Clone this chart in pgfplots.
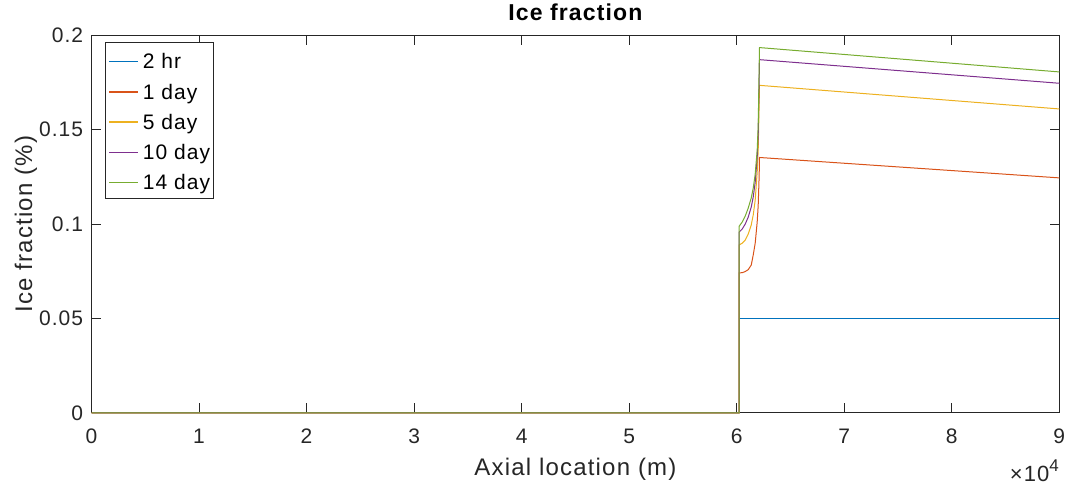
\documentclass[border=0pt]{standalone}
\usepackage{fontspec}
\setmainfont{Liberation Sans}[LetterSpace=5]
\usepackage{pgfplots}
\pgfplotsset{compat=1.18}
\definecolor{mblue}{rgb}{0,0.447,0.741}
\definecolor{mred}{rgb}{0.85,0.325,0.098}
\definecolor{myellow}{rgb}{0.929,0.694,0.125}
\definecolor{mpurple}{rgb}{0.494,0.184,0.556}
\definecolor{mgreen}{rgb}{0.466,0.674,0.188}
\definecolor{axgray}{rgb}{0.15,0.15,0.15}
\begin{document}
\begin{tikzpicture}
\path[use as bounding box] (0,0) rectangle (1066bp,486bp);
\begin{axis}[
  at={(91.5bp,73bp)}, anchor=south west,
  scale only axis, width=967.8bp, height=377.7bp,
  xmin=0, xmax=90000, ymin=0, ymax=0.2,
  clip=false,
  axis line style={axgray, line width=1bp},
  every tick/.style={axgray, line width=1bp},
  major tick length=9.5bp, tick align=inside,
  xtick={0,10000,20000,30000,40000,50000,60000,70000,80000,90000},
  xticklabels={0,1,2,3,4,5,6,7,8,9},
  ytick={0,0.05,0.1,0.15,0.2},
  yticklabels={0,0.05,0.1,0.15,0.2},
  scaled x ticks=false, scaled y ticks=false,
  /pgf/number format/assume math mode=true,
  tick label style={font=\fontsize{21bp}{24bp}\selectfont, text=axgray},
  xticklabel style={anchor=base, inner sep=0pt, yshift=-31bp},
  yticklabel style={anchor=east, inner sep=0pt, xshift=-8.2bp},
  xlabel={Axial location (m)},
  ylabel={Ice fraction (\%)},
  xlabel style={at={(axis description cs:0.5,0)}, anchor=base, inner sep=0pt, yshift=-62.7bp, font=\fontsize{24bp}{27bp}\selectfont, text=axgray},
  ylabel style={at={(axis description cs:-0.06148,0.5)}, anchor=base, inner sep=0pt, font=\fontsize{24bp}{27bp}\selectfont, text=axgray},
  title={Ice fraction},
  title style={at={(axis description cs:0.5,1)}, anchor=base, inner sep=0pt, yshift=8.8bp, font=\bfseries\fontsize{23bp}{26bp}\selectfont},
  legend style={at={(0.01426,0.983)}, anchor=north west, draw=axgray, fill=white,
    inner xsep=3bp, inner ysep=4bp, row sep=3.3bp, column sep=3.7bp,
    font=\fontsize{21bp}{24bp}\selectfont,
    nodes={inner sep=0pt, text height=22.8bp, text depth=4.2bp}},
  legend cell align=left,
  legend image code/.code={\draw[#1, line width=1.6bp] (0bp,-2bp) -- (29bp,-2bp);},
]
\addplot[draw=mblue, line width=1bp] coordinates {(0,0)(60230,0)(60230,0.0499)(90000,0.0499)};
\addlegendentry{2 hr}
\addplot[draw=mred, line width=1bp] coordinates {(0,0)(60230,0)(60230,0.0742)(60510,0.0743)(60790,0.0749)(61070,0.0759)(61350,0.0783)(61535,0.0836)(61720,0.0899)(61905,0.1011)(62000,0.1101)(62090,0.1259)(62120,0.1353)(90000,0.1245)};
\addlegendentry{1 day}
\addplot[draw=myellow, line width=1bp] coordinates {(0,0)(60230,0)(60230,0.0890)(60510,0.0899)(60790,0.0915)(61070,0.0947)(61350,0.0995)(61535,0.1048)(61720,0.1127)(61905,0.1275)(62000,0.1392)(62120,0.1735)(90000,0.1610)};
\addlegendentry{5 day}
\addplot[draw=mpurple, line width=1bp] coordinates {(0,0)(60230,0)(60230,0.0958)(60510,0.0974)(60790,0.1000)(61070,0.1037)(61350,0.1090)(61535,0.1143)(61720,0.1222)(61905,0.1354)(62000,0.1471)(62120,0.1871)(90000,0.1746)};
\addlegendentry{10 day}
\addplot[draw=mgreen, line width=1bp] coordinates {(0,0)(60230,0)(60230,0.0989)(60510,0.1011)(60790,0.1042)(61070,0.1085)(61350,0.1138)(61535,0.1190)(61720,0.1265)(61905,0.1392)(62000,0.1524)(62120,0.1935)(90000,0.1806)};
\addlegendentry{14 day}
\end{axis}
\node[anchor=base east, inner sep=0pt, text=axgray, font=\fontsize{22bp}{24bp}\selectfont] at (1059bp,5bp) {×10\raisebox{9.3bp}{\fontsize{17bp}{17bp}\selectfont 4}};
\end{tikzpicture}
\end{document}
